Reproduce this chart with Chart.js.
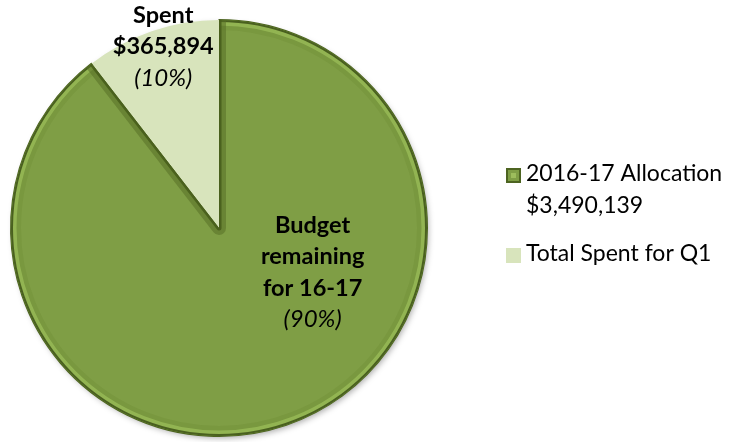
<!DOCTYPE html>
<html>
<head>
<meta charset="utf-8">
<script src="https://cdn.jsdelivr.net/npm/chart.js@4.4.1/dist/chart.umd.min.js"></script>
<style>
  html, body { margin: 0; padding: 0; background: #fff; }
  #wrap { width: 730px; height: 442px; }
</style>
</head>
<body>
<div id="wrap"><canvas id="chart" width="730" height="442"></canvas></div>
<script>
// data
const categories = ['Budget remaining for 16-17', 'Spent'];
const values = [3124245, 365894];
const legendLabels = [['2016-17 Allocation', '$3,490,139'], ['Total Spent for Q1']];
const sliceTitles = [['Budget', 'remaining', 'for 16-17'], ['Spent', '$365,894']];
const sliceColors = ['#7f9e45', '#d8e4bc'];

// label anchors (first baseline), as a fraction of the radius from the centre
const labelAnchor = [[0.45, 0.024], [-0.268, -0.986]];
const FONT = 'Lato, "Open Sans", sans-serif';

const total = values.reduce((a, b) => a + b, 0);

const shadowPlugin = {
  id: 'shadow',
  beforeDatasetsDraw(chart) {
    const arc = chart.getDatasetMeta(0).data[0];
    const ctx = chart.ctx;
    ctx.save();
    ctx.shadowColor = 'rgba(0,0,0,0.35)';
    ctx.shadowBlur = 6;
    ctx.shadowOffsetX = 2;
    ctx.shadowOffsetY = 3;
    ctx.fillStyle = sliceColors[0];
    ctx.beginPath();
    ctx.arc(arc.x, arc.y, arc.outerRadius - 1, 0, Math.PI * 2);
    ctx.fill();
    ctx.restore();
  }
};

// bevel on the big slice: light band along the rim, dark band on the cut edges
const bevelPlugin = {
  id: 'bevel',
  afterDatasetsDraw(chart) {
    const arc = chart.getDatasetMeta(0).data[0];
    const ctx = chart.ctx;
    const r = arc.outerRadius;
    ctx.save();
    ctx.beginPath();
    ctx.moveTo(arc.x, arc.y);
    ctx.arc(arc.x, arc.y, r, arc.startAngle, arc.endAngle);
    ctx.closePath();
    ctx.clip();

    const rim = (w, c) => {
      ctx.beginPath();
      ctx.arc(arc.x, arc.y, r, arc.startAngle, arc.endAngle);
      ctx.strokeStyle = c;
      ctx.lineWidth = w;
      ctx.stroke();
    };
    rim(20, 'rgba(115,145,58,0.5)');
    rim(11, 'rgba(168,204,98,0.55)');
    rim(4, 'rgba(70,92,28,0.95)');

    ctx.beginPath();
    ctx.moveTo(arc.x + r * Math.cos(arc.startAngle), arc.y + r * Math.sin(arc.startAngle));
    ctx.lineTo(arc.x, arc.y);
    ctx.lineTo(arc.x + r * Math.cos(arc.endAngle), arc.y + r * Math.sin(arc.endAngle));
    ctx.lineJoin = 'round';
    ctx.strokeStyle = 'rgba(88,112,38,0.55)';
    ctx.lineWidth = 14;
    ctx.stroke();
    ctx.strokeStyle = 'rgba(72,94,28,0.9)';
    ctx.lineWidth = 5;
    ctx.stroke();
    ctx.restore();
  }
};

const sliceLabelPlugin = {
  id: 'sliceLabels',
  afterDraw(chart) {
    const ctx = chart.ctx;
    const meta = chart.getDatasetMeta(0);
    ctx.save();
    ctx.textAlign = 'center';
    ctx.textBaseline = 'alphabetic';
    ctx.fillStyle = '#000';
    meta.data.forEach((arc, i) => {
      const r = arc.outerRadius;
      const x = arc.x + labelAnchor[i][0] * r;
      let y = arc.y + labelAnchor[i][1] * r;
      ctx.font = 'bold 23.5px ' + FONT;
      sliceTitles[i].forEach(t => {
        ctx.fillText(t, x, y);
        y += 31.5;
      });
      ctx.font = 'italic 24px ' + FONT;
      ctx.fillText('(' + Math.round(values[i] / total * 100) + '%)', x, y);
    });
    ctx.restore();
  }
};

const legendPlugin = {
  id: 'sideLegend',
  afterDraw(chart) {
    const ctx = chart.ctx;
    const x = 506, box = 15, lineH = 32;
    let y = 181;
    ctx.save();
    ctx.font = '23px ' + FONT;
    ctx.textBaseline = 'alphabetic';
    ctx.textAlign = 'left';
    legendLabels.forEach((lines, i) => {
      const top = y - 13;
      ctx.fillStyle = sliceColors[i];
      ctx.fillRect(x, top, box, box);
      if (i === 0) {
        ctx.strokeStyle = '#4d6421';
        ctx.lineWidth = 2;
        ctx.strokeRect(x + 1, top + 1, box - 2, box - 2);
        ctx.fillStyle = '#9dbd5c';
        ctx.fillRect(x + 5, top + 5, box - 10, box - 10);
      }
      ctx.fillStyle = '#000';
      lines.forEach((t, j) => ctx.fillText(t, x + 20, y + j * lineH));
      y += lines.length * lineH + 16;
    });
    ctx.restore();
  }
};

new Chart(document.getElementById('chart'), {
  type: 'pie',
  data: {
    labels: categories,
    datasets: [{
      data: values,
      backgroundColor: sliceColors,
      borderColor: ['#4d6421', sliceColors[1]],
      borderWidth: [2, 0]
    }]
  },
  options: {
    responsive: false,
    animation: false,
    events: [],
    layout: { padding: { left: 10, top: 19, right: 302, bottom: 5 } },
    plugins: {
      legend: { display: false },
      tooltip: { enabled: false }
    }
  },
  plugins: [shadowPlugin, bevelPlugin, sliceLabelPlugin, legendPlugin]
});
</script>
</body>
</html>
